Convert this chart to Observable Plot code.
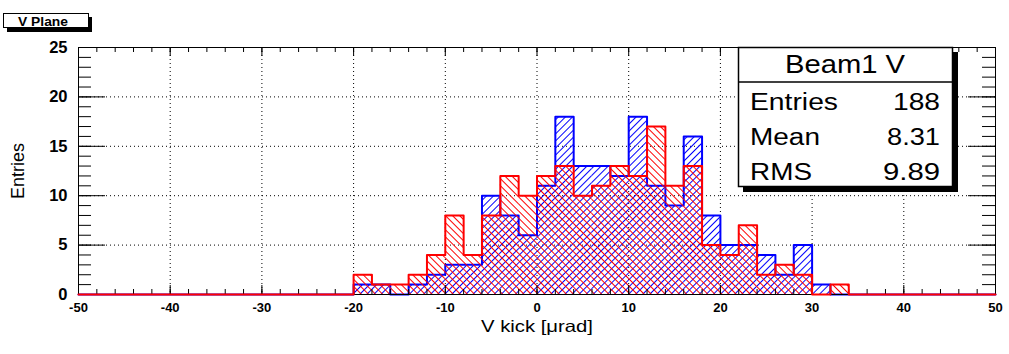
<!DOCTYPE html>
<html><head><meta charset="utf-8">
<script src="https://cdn.jsdelivr.net/npm/d3@7"></script>
<script src="https://cdn.jsdelivr.net/npm/@observablehq/plot@0.6"></script>
<style>
body{margin:0;background:#fff;}
#chart{position:relative;width:1009px;height:354px;}
g[aria-label="x-axis tick label"]{font-weight:bold;font-size:13px;}
g[aria-label="y-axis tick label"]{font-weight:bold;font-size:16.5px;}
</style>
</head><body><div id="chart"></div>
<script>
const FONT = "'Liberation Sans', Arial, Helvetica, sans-serif";
// bin lower edges (bin width 2)
const binLo = [-20,-18,-16,-14,-12,-10,-8,-6,-4,-2,0,2,4,6,8,10,12,14,16,18,20,22,24,26,28,30,32];
const binWidth = 2;
// blue histogram (Beam1 V)
const beam1V = [1,1,0,1,2,3,3,10,8,6,11,18,13,13,12,18,11,9,16,8,5,5,4,2,5,1,0];
// red histogram
const beam2V = [2,1,1,2,4,8,4,8,12,10,12,13,10,11,13,12,17,11,13,5,4,7,2,3,2,0,1];
const xDomain = [-50, 50];
const yDomain = [0, 25];
const xMajor = [-50,-40,-30,-20,-10,0,10,20,30,40,50];
const yMajor = [0,5,10,15,20,25];
const xGrid = [-40,-30,-20,-10,0,10,20,30,40];
const yGrid = [5,10,15,20];
const xMinor = d3.range(-50, 50.001, 2);
const yMinor = d3.range(0, 25.001, 1);
const planeTitle = "V Plane";
const xTitle = "V kick [\u03bcrad]";
const yTitle = "Entries";
const statsTitle = "Beam1 V";
const statsLabels = ["Entries", "Mean", "RMS"];
const statsValues = ["188", "8.31", "9.89"];

const W = 1009, H = 354, mL = 78, mR = 14, mT = 47, mB = 60;
const fw = W - mL - mR, fh = H - mT - mB;

function bins(counts){ return binLo.map((lo,i)=>({x1:lo, x2:lo+binWidth, y:counts[i]})); }
function steps(counts){
  const pts = [{x:xDomain[0], y:0}];
  binLo.forEach((lo,i)=>pts.push({x:lo, y:counts[i]}));
  pts.push({x:binLo[binLo.length-1]+binWidth, y:0});
  pts.push({x:xDomain[1], y:0});
  return pts;
}

const svg = Plot.plot({
  width: W, height: H,
  marginLeft: mL, marginRight: mR, marginTop: mT, marginBottom: mB,
  style: {fontFamily: FONT, background: "white", color: "black", overflow: "visible"},
  x: {domain: xDomain, ticks: xMajor, tickSize: 0, tickPadding: 8, tickFormat: d => String(d), label: null},
  y: {domain: yDomain, ticks: yMajor, tickSize: 0, tickPadding: 11, tickFormat: d => String(d), label: null},
  marks: [
    Plot.ruleX(xGrid, {stroke: "black", strokeDasharray: "1,3"}),
    Plot.ruleY(yGrid, {stroke: "black", strokeDasharray: "1,3"}),
    Plot.rectY(bins(beam1V), {x1: "x1", x2: "x2", y: "y", fill: "url(#hatchBlue)"}),
    Plot.lineY(steps(beam1V), {x: "x", y: "y", curve: "step-after", stroke: "#0000ff", strokeWidth: 2}),
    Plot.rectY(bins(beam2V), {x1: "x1", x2: "x2", y: "y", fill: "url(#hatchRed)"}),
    // ticks: bottom / top
    Plot.ruleX(xMinor, {stroke: "black", insetTop: fh - 5}),
    Plot.ruleX(xMajor, {stroke: "black", insetTop: fh - 9}),
    Plot.ruleX(xMinor, {stroke: "black", insetBottom: fh - 5}),
    Plot.ruleX(xMajor, {stroke: "black", insetBottom: fh - 9}),
    // ticks: left / right
    Plot.ruleY(yMinor, {stroke: "black", insetRight: fw - 13}),
    Plot.ruleY(yMajor, {stroke: "black", insetRight: fw - 27}),
    Plot.ruleY(yMinor, {stroke: "black", insetLeft: fw - 13}),
    Plot.ruleY(yMajor, {stroke: "black", insetLeft: fw - 27}),
    Plot.frame({stroke: "black"}),
    Plot.lineY(steps(beam2V), {x: "x", y: "y", curve: "step-after", stroke: "#ff0000", strokeWidth: 2}),
    Plot.text([xTitle], {frameAnchor: "bottom", dy: 37, fontSize: 16.5}),
    Plot.text([yTitle], {frameAnchor: "left", textAnchor: "middle", dx: -60.5, rotate: -90, fontSize: 18})
  ]
});

const s = d3.select(svg);
s.insert("defs", ":first-child").html(`
  <pattern id="hatchBlue" patternUnits="userSpaceOnUse" width="5" height="5" patternTransform="rotate(45)">
    <line x1="2.5" y1="-1" x2="2.5" y2="6" stroke="#0000ff" stroke-width="1"/>
  </pattern>
  <pattern id="hatchRed" patternUnits="userSpaceOnUse" width="5" height="5" patternTransform="rotate(-45)">
    <line x1="2.5" y1="-1" x2="2.5" y2="6" stroke="#ff0000" stroke-width="1"/>
  </pattern>`);
s.selectAll("text").each(function(){
  if (this.textContent === xTitle) d3.select(this).attr("textLength", 112).attr("lengthAdjust", "spacingAndGlyphs");
});

// Title box "V Plane"
const tb = s.append("g").attr("font-family", FONT).attr("text-anchor", "start");
tb.append("rect").attr("x", 7).attr("y", 17).attr("width", 85).attr("height", 15).attr("fill", "black");
tb.append("rect").attr("x", 3.5).attr("y", 13.5).attr("width", 85).attr("height", 14).attr("fill", "white").attr("stroke", "black");
tb.append("text").attr("x", 18).attr("y", 25.5).attr("text-anchor", "start").attr("font-weight", "bold")
  .attr("font-size", 12.5).attr("textLength", 50).attr("lengthAdjust", "spacingAndGlyphs").text(planeTitle);

// Stats box
const sb = s.append("g").attr("font-family", FONT).attr("fill", "black").attr("text-anchor", "start");
sb.append("rect").attr("x", 743).attr("y", 52).attr("width", 215).attr("height", 140).attr("fill", "black");
sb.append("rect").attr("x", 738.5).attr("y", 47.5).attr("width", 214).attr("height", 139).attr("fill", "white").attr("stroke", "black").attr("stroke-width", 1.5);
sb.append("line").attr("x1", 738.5).attr("x2", 952.5).attr("y1", 82).attr("y2", 82).attr("stroke", "black").attr("stroke-width", 1.5);
sb.append("text").attr("x", 785).attr("y", 73).attr("text-anchor", "start").attr("font-size", 25)
  .attr("textLength", 120).attr("lengthAdjust", "spacingAndGlyphs").text(statsTitle);
const labW = [88, 70, 62], valW = [47, 53, 57], base = [110, 145, 180];
statsLabels.forEach((t, i) => {
  sb.append("text").attr("x", 750).attr("y", base[i]).attr("text-anchor", "start").attr("font-size", 23.5)
    .attr("textLength", labW[i]).attr("lengthAdjust", "spacingAndGlyphs").text(t);
  sb.append("text").attr("x", 940 - valW[i]).attr("y", base[i]).attr("text-anchor", "start").attr("font-size", 23.5)
    .attr("textLength", valW[i]).attr("lengthAdjust", "spacingAndGlyphs").text(statsValues[i]);
});

document.getElementById("chart").appendChild(svg);
</script>
</body></html>
